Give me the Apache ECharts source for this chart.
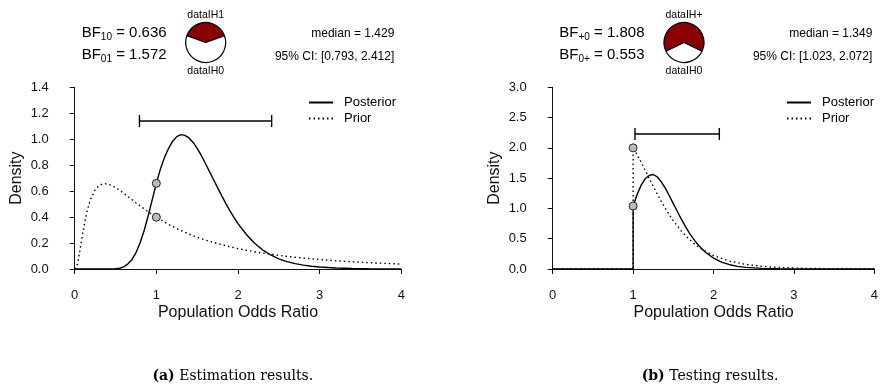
<!DOCTYPE html>
<html>
<head>
<meta charset="utf-8">
<script src="https://cdn.jsdelivr.net/npm/echarts@6/dist/echarts.min.js"></script>
<style>
  html, body { margin: 0; padding: 0; background: #fff; }
  #chart { width: 881px; height: 384px; }
</style>
</head>
<body>
<div id="chart"></div>
<script>
// ---------- data ----------
const xTickLabels = ['0', '1', '2', '3', '4'];
const estYTicks = ['0.0', '0.2', '0.4', '0.6', '0.8', '1.0', '1.2', '1.4'];
const testYTicks = ['0.0', '0.5', '1.0', '1.5', '2.0', '2.5', '3.0'];

const estPosterior = [
  [0, 0], [0.3, 0], [0.4, 0.0002], [0.45, 0.0008], [0.5, 0.002], [0.55, 0.006], [0.6, 0.017],
  [0.65, 0.038], [0.7, 0.072], [0.75, 0.125], [0.8, 0.2], [0.85, 0.295], [0.9, 0.41],
  [0.95, 0.535], [1.0, 0.66], [1.05, 0.77], [1.1, 0.86], [1.15, 0.93], [1.2, 0.985],
  [1.25, 1.02], [1.3, 1.035], [1.35, 1.03], [1.4, 1.01], [1.45, 0.975], [1.5, 0.93],
  [1.55, 0.875], [1.6, 0.815], [1.65, 0.752], [1.7, 0.69], [1.75, 0.627], [1.8, 0.565],
  [1.85, 0.506], [1.9, 0.45], [1.95, 0.398], [2.0, 0.35], [2.1, 0.268], [2.2, 0.2],
  [2.3, 0.148], [2.4, 0.108], [2.5, 0.078], [2.6, 0.057], [2.7, 0.041], [2.8, 0.03],
  [2.9, 0.021], [3.0, 0.015], [3.2, 0.0075], [3.4, 0.0038], [3.6, 0.0019], [3.8, 0.001],
  [4.0, 0.0005]
];
const estPrior = [
  [0, 0], [0.01, 0.001], [0.02, 0.0095], [0.03, 0.0285], [0.05, 0.0898], [0.075, 0.186],
  [0.1, 0.282], [0.125, 0.367], [0.15, 0.44], [0.175, 0.499], [0.2, 0.546], [0.25, 0.61],
  [0.3, 0.644], [0.35, 0.657], [0.4, 0.656], [0.45, 0.645], [0.5, 0.628], [0.55, 0.607],
  [0.6, 0.584], [0.65, 0.559], [0.7, 0.535], [0.75, 0.51], [0.8, 0.486], [0.9, 0.441],
  [1.0, 0.399], [1.1, 0.361], [1.2, 0.327], [1.3, 0.297], [1.4, 0.269], [1.5, 0.245],
  [1.6, 0.223], [1.8, 0.187], [2.0, 0.157], [2.2, 0.133], [2.4, 0.113], [2.6, 0.097],
  [2.8, 0.084], [3.0, 0.073], [3.2, 0.063], [3.4, 0.056], [3.6, 0.049], [3.8, 0.043],
  [4.0, 0.038]
];
const testPosterior = [
  [0, 0], [1.0, 0], [1.0, 1.04], [1.05, 1.23], [1.1, 1.385], [1.15, 1.49], [1.2, 1.545],
  [1.25, 1.56], [1.3, 1.52], [1.35, 1.44], [1.4, 1.335], [1.45, 1.21], [1.5, 1.08],
  [1.55, 0.95], [1.6, 0.822], [1.65, 0.703], [1.7, 0.594], [1.75, 0.497], [1.8, 0.412],
  [1.85, 0.338], [1.9, 0.276], [2.0, 0.18], [2.1, 0.114], [2.2, 0.071], [2.3, 0.044],
  [2.4, 0.0265], [2.6, 0.0095], [2.8, 0.0035], [3.0, 0.0011], [3.5, 0.0001], [4.0, 0]
];
const testPrior = [
  [0, 0], [1.0, 0], [1.0, 2.0], [1.05, 1.886], [1.1, 1.763], [1.15, 1.632], [1.2, 1.498],
  [1.25, 1.366], [1.3, 1.238], [1.35, 1.115], [1.4, 1.0], [1.45, 0.893], [1.5, 0.796],
  [1.6, 0.625], [1.7, 0.487], [1.8, 0.376], [1.9, 0.29], [2.0, 0.222], [2.2, 0.13],
  [2.4, 0.076], [2.6, 0.044], [2.8, 0.026], [3.0, 0.0153], [3.2, 0.0091], [3.5, 0.0042],
  [4.0, 0.0012]
];
const estDots = [[1, 0.66], [1, 0.399]];
const testDots = [[1, 1.04], [1, 2.0]];
const estCI = [[0.793, 1.14], [2.412, 1.14]];
const testCI = [[1.023, 2.23], [2.072, 2.23]];
const estPieNames = ['dataIH1', 'dataIH0'];
const estPieValues = [0.389, 0.611];
const testPieNames = ['dataIH+', 'dataIH0'];
const testPieValues = [0.644, 0.356];

const estBF = [['10', '0.636'], ['01', '1.572']];
const testBF = [['+0', '1.808'], ['0+', '0.553']];
const estSummary = ['median = 1.429', '95% CI: [0.793, 2.412]'];
const testSummary = ['median = 1.349', '95% CI: [1.023, 2.072]'];
const captions = [['(a)', ' Estimation results.'], ['(b)', ' Testing results.']];
const legendNames = ['Posterior', 'Prior'];
const xName = 'Population Odds Ratio';
const yName = 'Density';

// ---------- styles ----------
const SANS = 'Liberation Sans, Arial, Helvetica, sans-serif';
const SERIF = 'DejaVu Serif, Liberation Serif, serif';
const INK = '#111';

function xAxisFor(gridIndex) {
  return {
    type: 'value', gridIndex, min: 0, max: 4, interval: 1, offset: 8,
    name: xName, nameLocation: 'middle', nameGap: 28,
    nameTextStyle: { fontFamily: SANS, fontSize: 16, color: INK },
    axisLine: { show: true, lineStyle: { color: INK, width: 1 } },
    axisTick: { show: true, length: 5, lineStyle: { color: INK, width: 1 } },
    axisLabel: { fontFamily: SANS, fontSize: 13, color: INK, margin: 12,
      formatter: v => xTickLabels[Math.round(v)] },
    splitLine: { show: false }
  };
}
function yAxisFor(gridIndex, max, interval, labels) {
  return {
    type: 'value', gridIndex, min: 0, max, interval, offset: 14,
    name: yName, nameLocation: 'middle', nameGap: 36,
    nameTextStyle: { fontFamily: SANS, fontSize: 16, color: INK },
    axisLine: { show: true, lineStyle: { color: INK, width: 1 } },
    axisTick: { show: true, length: 5, lineStyle: { color: INK, width: 1 } },
    axisLabel: { fontFamily: SANS, fontSize: 13, color: INK, margin: 12,
      formatter: v => labels[Math.round(v / interval)] },
    splitLine: { show: false }
  };
}
function curveSeries(name, data, idx, dotted) {
  return {
    name, type: 'line', data, xAxisIndex: idx, yAxisIndex: idx,
    symbol: 'none', smooth: false, z: dotted ? 2 : 3,
    lineStyle: { color: '#000', width: 1.4, type: dotted ? [1.5, 3] : 'solid' },
    itemStyle: { color: '#000' }
  };
}
function ciSeries(data, idx) {
  return {
    name: 'CI', type: 'line', data, xAxisIndex: idx, yAxisIndex: idx,
    symbol: 'rect', symbolSize: [1.4, 12], showSymbol: true,
    lineStyle: { color: '#000', width: 1.4 }, itemStyle: { color: '#000' }, z: 3
  };
}
function dotSeries(data, idx) {
  return {
    name: 'dots', type: 'scatter', data, xAxisIndex: idx, yAxisIndex: idx,
    symbol: 'circle', symbolSize: 8, z: 5,
    itemStyle: { color: '#bdbdbd', borderColor: '#222', borderWidth: 1, opacity: 1 }
  };
}
function pieSeries(names, values, cx, start) {
  return {
    type: 'pie', center: [cx, 42.5], radius: 20, startAngle: start, clockwise: true,
    silent: true, label: { show: false }, labelLine: { show: false },
    data: names.map((n, i) => ({ name: n, value: values[i],
      itemStyle: { color: i === 0 ? '#8b0000' : '#ffffff' } })),
    itemStyle: { borderColor: '#000', borderWidth: 1.2 }
  };
}
function bfText(sub, val, x, y) {
  return {
    type: 'text', x, y,
    style: {
      text: '{m|BF}{s|' + sub + '}{m| = ' + val + '}',
      textVerticalAlign: 'middle',
      rich: {
        m: { fontFamily: SANS, fontSize: 15, lineHeight: 18, fill: '#000' },
        s: { fontFamily: SANS, fontSize: 10, lineHeight: 10, verticalAlign: 'bottom', fill: '#000' }
      }
    }
  };
}
function plainText(text, x, y, align, size) {
  return { type: 'text', x, y, style: { text, fontFamily: SANS, fontSize: size, fill: '#000',
    textAlign: align, textVerticalAlign: 'middle' } };
}
function captionText(c, x, y) {
  return { type: 'text', x, y, style: {
    text: '{b|' + c[0] + '}{n|' + c[1] + '}', textAlign: 'center', textVerticalAlign: 'middle',
    rich: { b: { fontFamily: SERIF, fontSize: 14, fontWeight: 'bold', fill: '#000' },
            n: { fontFamily: SERIF, fontSize: 14, fill: '#000' } } } };
}
function legendFor(left) {
  return {
    data: legendNames, orient: 'vertical', left, top: 96, padding: 0,
    itemWidth: 24, itemHeight: 14, itemGap: 3, selectedMode: false,
    itemStyle: { opacity: 0 },
    textStyle: { fontFamily: SANS, fontSize: 13, color: '#000', padding: [0, 0, 0, 6] }
  };
}

const chart = echarts.init(document.getElementById('chart'), null, { renderer: 'canvas' });
chart.setOption({
  animation: false,
  backgroundColor: '#fff',
  grid: [
    { left: 74.7, top: 87.3, width: 326.6, height: 181.7 },
    { left: 552.7, top: 87.3, width: 326.6, height: 181.7 }
  ],
  xAxis: [xAxisFor(0), xAxisFor(1)],
  yAxis: [yAxisFor(0, 1.4, 0.2, estYTicks), yAxisFor(1, 3, 0.5, testYTicks)],
  legend: [legendFor(308), legendFor(786)],
  series: [
    curveSeries(legendNames[1], estPrior, 0, true),
    curveSeries(legendNames[0], estPosterior, 0, false),
    ciSeries(estCI, 0),
    dotSeries(estDots, 0),
    curveSeries(legendNames[1], testPrior, 1, true),
    curveSeries(legendNames[0], testPosterior, 1, false),
    ciSeries(testCI, 1),
    dotSeries(testDots, 1),
    pieSeries(estPieNames, estPieValues, 205.7, 160),
    pieSeries(testPieNames, testPieValues, 684, 205.9)
  ],
  graphic: [
    bfText(estBF[0][0], estBF[0][1], 81.7, 33.3),
    bfText(estBF[1][0], estBF[1][1], 81.7, 55),
    plainText(estPieNames[0], 205.7, 15, 'center', 10.5),
    plainText(estPieNames[1], 205.7, 71.5, 'center', 10.5),
    plainText(estSummary[0], 394.3, 33.3, 'right', 12),
    plainText(estSummary[1], 394.3, 57, 'right', 12),
    bfText(testBF[0][0], testBF[0][1], 559.3, 33.3),
    bfText(testBF[1][0], testBF[1][1], 559.3, 55),
    plainText(testPieNames[0], 684, 15, 'center', 10.5),
    plainText(testPieNames[1], 684, 71.5, 'center', 10.5),
    plainText(testSummary[0], 872.3, 33.3, 'right', 12),
    plainText(testSummary[1], 872.3, 57, 'right', 12),
    captionText(captions[0], 232.8, 376.7),
    captionText(captions[1], 710, 376.7)
  ]
});
</script>
</body>
</html>
